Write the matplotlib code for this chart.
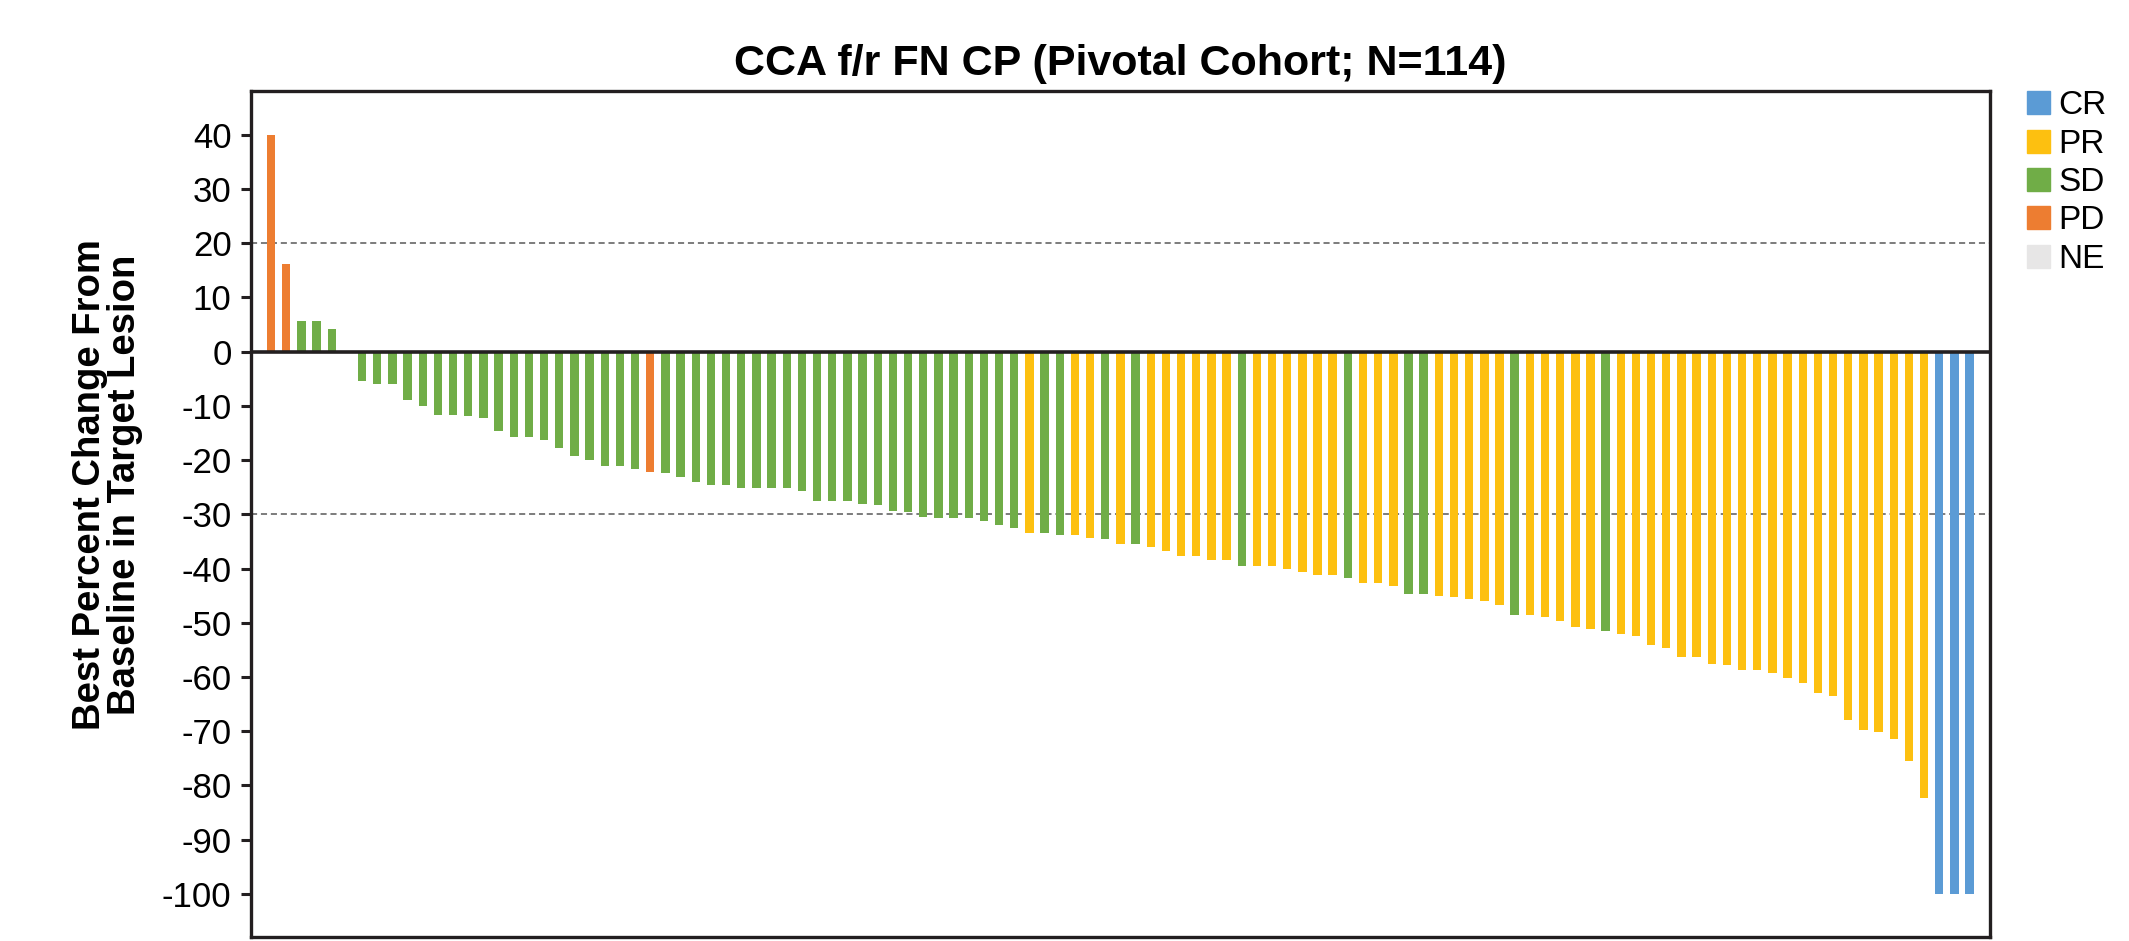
import matplotlib
matplotlib.use('Agg')
import matplotlib.pyplot as plt
from matplotlib.patches import Patch

# best % change per patient, sorted (waterfall)
values = [40.0, 16.1, 5.7, 5.7, 4.2, 0.0, -5.4, -5.9, -5.9, -8.9,
          -10.0, -11.6, -11.6, -11.9, -12.3, -14.7, -15.7, -15.7, -16.2, -17.7,
          -19.2, -20.0, -21.0, -21.0, -21.6, -22.1, -22.3, -23.2, -24.0, -24.5,
          -24.6, -25.1, -25.1, -25.1, -25.2, -25.7, -27.6, -27.6, -27.6, -28.0,
          -28.2, -29.3, -29.5, -30.4, -30.7, -30.7, -30.7, -31.3, -32.0, -32.6,
          -33.5, -33.5, -33.9, -33.9, -34.3, -34.5, -35.4, -35.4, -36.0, -36.7,
          -37.6, -37.6, -38.5, -38.5, -39.5, -39.5, -39.5, -40.1, -40.7, -41.1,
          -41.2, -41.8, -42.7, -42.7, -43.2, -44.6, -44.6, -45.0, -45.2, -45.6,
          -46.0, -46.7, -48.5, -48.5, -49.0, -49.6, -50.8, -51.2, -51.5, -52.1,
          -52.5, -54.1, -54.6, -56.3, -56.3, -57.6, -57.8, -58.8, -58.8, -59.3,
          -60.1, -61.1, -62.9, -63.5, -68.0, -69.7, -70.1, -71.5, -75.5, -82.4,
          -100.0, -100.0, -100.0]

# best overall response per bar
response = (['PD', 'PD', 'SD', 'SD', 'SD', 'SD'] + ['SD'] * 19 + ['PD'] + ['SD'] * 24
            + ['PR', 'SD', 'SD', 'PR', 'PR', 'SD', 'PR', 'SD']
            + ['PR'] * 6 + ['SD'] + ['PR'] * 6 + ['SD'] + ['PR'] * 3 + ['SD', 'SD']
            + ['PR'] * 5 + ['SD'] + ['PR'] * 5 + ['SD'] + ['PR'] * 21
            + ['CR'] * 3)

categories = ['CR', 'PR', 'SD', 'PD', 'NE']
colors = {'CR': '#5B9BD5', 'PR': '#FDC010', 'SD': '#70AD47',
          'PD': '#ED7D31', 'NE': '#E7E6E6'}

yticks = list(range(40, -101, -10))
ref_lines = [20, -30]

plt.rcParams['font.family'] = 'Liberation Sans'

fig = plt.figure(figsize=(21.29, 9.41), dpi=100)
ax = fig.add_axes([0.1179, 0.004, 0.8168, 0.8988])

x = list(range(len(values)))
ax.bar(x, values, width=0.55, color=[colors[r] for r in response], zorder=2)

for y in ref_lines:
    ax.axhline(y, color='#595959', lw=1.1, ls=(0, (4, 2.5)), zorder=1)
ax.axhline(0, color='#231F20', lw=2.6, zorder=3)

ax.set_xlim(-1.32, len(values) + 0.34)
ax.set_ylim(-108, 48)
ax.set_xticks([])
ax.set_yticks(yticks)
ax.set_yticklabels([str(t) for t in yticks], fontsize=25)
ax.tick_params(axis='y', length=7, width=2.2, color='#231F20', pad=7)

for s in ax.spines.values():
    s.set_linewidth(2.4)
    s.set_color('#231F20')

ax.set_title('CCA f/r FN CP (Pivotal Cohort; N=114)', fontsize=31,
             fontweight='bold', pad=12)

fig.text(0.0505, 0.485, 'Best Percent Change From\nBaseline in Target Lesion',
         rotation=90, ha='center', va='center', fontsize=27.5,
         fontweight='bold', linespacing=0.98)

handles = [Patch(color=colors[c], label=c) for c in categories]
fig.legend(handles=handles, loc='upper left', bbox_to_anchor=(0.946, 0.918),
           frameon=False, handlelength=0.68, handleheight=0.68,
           handletextpad=0.25, labelspacing=0.22, borderaxespad=0,
           prop={'size': 24})

fig.savefig('out.png', dpi=100)
